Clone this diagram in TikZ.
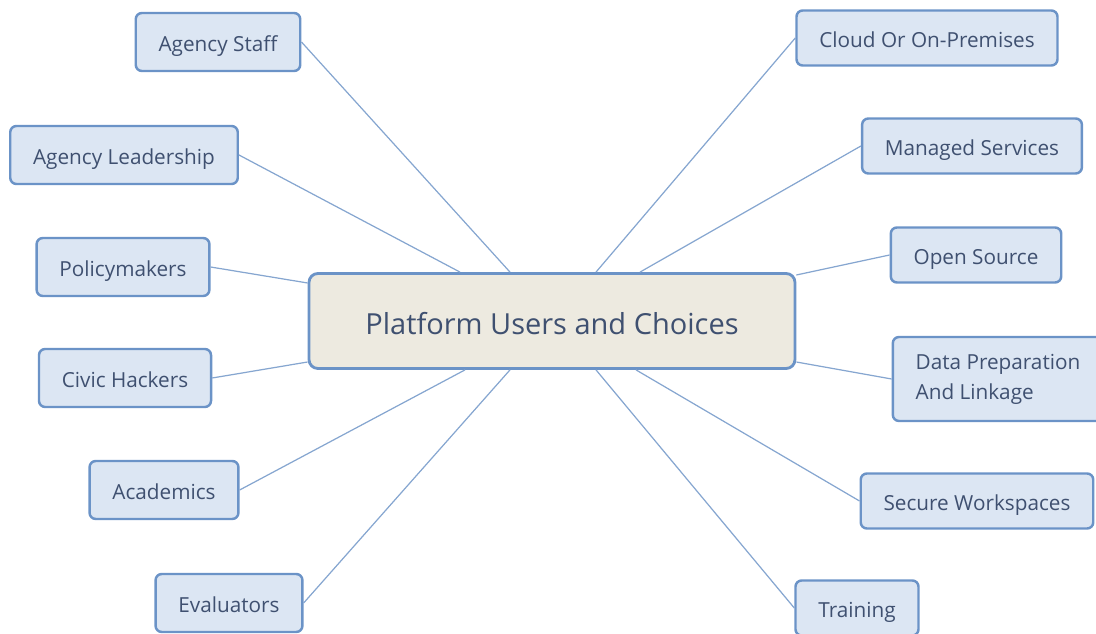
\documentclass[tikz,border=0pt]{standalone}
\usepackage{fontspec}
\setmainfont{Open Sans}
\usetikzlibrary{calc}
\definecolor{txtblue}{HTML}{3F5070}
\definecolor{leaffill}{HTML}{DCE6F3}
\definecolor{boxline}{HTML}{6B93C7}
\definecolor{hubfill}{HTML}{EDEAE0}
\definecolor{linkblue}{HTML}{86A6D0}
\begin{document}
\begin{tikzpicture}[x=0.02cm,y=-0.02cm,
	leafbase/.style={draw=boxline, line width=1.4pt, fill=leaffill, rounded corners=3.5pt,
		text=txtblue, font=\fontsize{11.8}{17}\selectfont, inner xsep=13pt, minimum height=1.16cm},
	leaf/.style={leafbase, text height=10.8pt, text depth=0pt},
	hub/.style={draw=boxline, line width=1.6pt, fill=hubfill, rounded corners=5pt,
		text=txtblue, font=\fontsize{16.5}{20}\selectfont, text height=15pt, text depth=0pt,
		minimum width=9.72cm, minimum height=1.9cm},
	link/.style={draw=linkblue, line width=0.7pt}]
	\useasboundingbox (0,0) rectangle (1096,634);

	% Central node
	\node[hub] (hub) at (552,321) {Platform Users and Choices};

	% Users (left)
	\node[leaf] (staff) at (218,42) {Agency Staff};
	\node[leaf] (leader) at (124,155) {Agency Leadership};
	\node[leaf] (policy) at (123,267) {Policymakers};
	\node[leaf] (civic) at (125,378) {Civic Hackers};
	\node[leaf] (acad) at (164,490) {Academics};
	\node[leaf] (eval) at (229,603) {Evaluators};

	% Choices (right)
	\node[leaf, minimum height=1.1cm] (cloud) at (927,38) {Cloud Or On-Premises};
	\node[leaf, minimum height=1.1cm] (managed) at (972,146) {Managed Services};
	\node[leaf, minimum height=1.1cm] (open) at (976,255) {Open Source};
	\node[leafbase, align=left, minimum height=1.68cm, minimum width=4.1cm] (prep) at (998,379) {Data Preparation\\And Linkage};
	\node[leaf, minimum height=1.1cm] (secure) at (977,501) {Secure Workspaces};
	\node[leaf, minimum height=1.1cm] (train) at (857,608) {Training};

	% Links
	\draw[link] ($(hub.north)+(-42,0)$) -- (staff.east);
	\draw[link] ($(hub.north)+(-92,0)$) -- (leader.east);
	\draw[link] ($(hub.west)+(0,-38)$) -- (policy.east);
	\draw[link] ($(hub.west)+(0,41)$) -- (civic.east);
	\draw[link] ($(hub.south)+(-87,0)$) -- (acad.east);
	\draw[link] ($(hub.south)+(-42,0)$) -- (eval.east);
	\draw[link] ($(hub.north)+(44,0)$) -- (cloud.west);
	\draw[link] ($(hub.north)+(88,0)$) -- (managed.west);
	\draw[link] ($(hub.east)+(0,-46)$) -- (open.west);
	\draw[link] ($(hub.east)+(0,41)$) -- (prep.west);
	\draw[link] ($(hub.south)+(84,0)$) -- (secure.west);
	\draw[link] ($(hub.south)+(44,0)$) -- (train.west);
\end{tikzpicture}
\end{document}
